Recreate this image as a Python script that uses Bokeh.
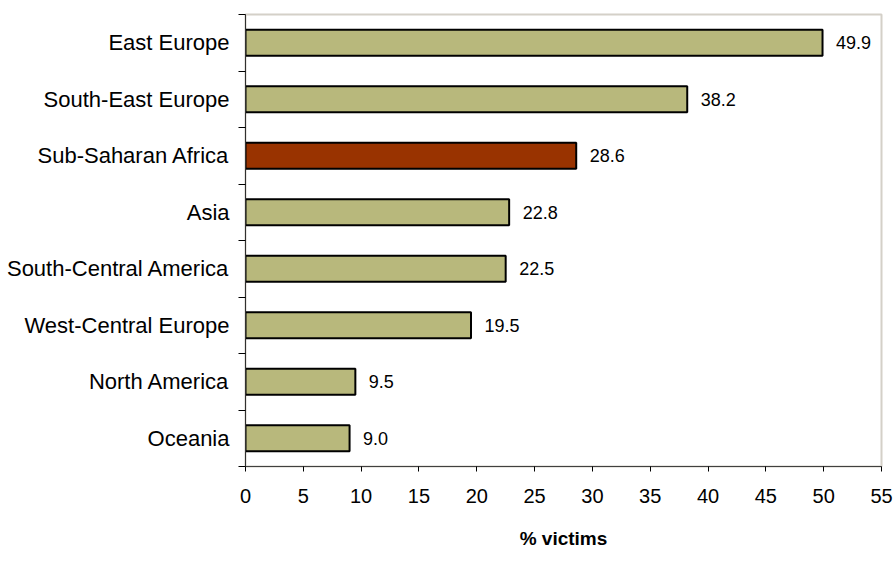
from bokeh.plotting import figure
from bokeh.models import ColumnDataSource, FixedTicker, Range1d
from bokeh.embed import file_html
from bokeh.resources import INLINE
from bokeh.core.properties import value

# Data (top to bottom as shown)
regions = ["East Europe", "South-East Europe", "Sub-Saharan Africa", "Asia",
           "South-Central America", "West-Central Europe", "North America", "Oceania"]
pct_victims = [49.9, 38.2, 28.6, 22.8, 22.5, 19.5, 9.5, 9.0]
highlight = "Sub-Saharan Africa"
x_ticks = [0, 5, 10, 15, 20, 25, 30, 35, 40, 45, 50, 55]

FONT = "Liberation Sans"
n = len(regions)
ypos = [n - 1 - i + 0.5 for i in range(n)]
colors = ["#993300" if r == highlight else "#b8b87c" for r in regions]
labels = ["%.1f" % v for v in pct_victims]

src = ColumnDataSource(dict(region=regions, v=pct_victims, y=ypos, c=colors, lab=labels))

p = figure(width=895, height=574, output_backend="svg", toolbar_location=None,
           x_range=Range1d(0, 55), y_range=Range1d(0, n),
           min_border_left=245, min_border_right=14, min_border_top=14, min_border_bottom=108)
p.background_fill_color = "white"
p.border_fill_color = "white"
p.outline_line_color = "#d4d0c8"
p.outline_line_width = 2
p.xgrid.visible = False
p.ygrid.visible = False

p.hbar(y="y", right="v", left=0, height=0.46, fill_color="c", line_color="black",
       line_width=2, source=src)
p.text(x="v", y="y", text="lab", x_offset=13.5, text_baseline="middle", text_align="left",
       text_font=value(FONT), text_font_size="18px", text_color="black", source=src)

# x axis
xa = p.xaxis[0]
xa.ticker = FixedTicker(ticks=x_ticks)
xa.axis_line_color = "#404040"
xa.major_tick_in = 0
xa.major_tick_out = 5
xa.major_tick_line_color = "black"
xa.minor_tick_line_color = None
xa.major_label_text_font = FONT
xa.major_label_text_font_size = "20px"
xa.major_label_text_color = "black"
xa.major_label_standoff = 17
xa.axis_label = "% victims"
xa.axis_label_text_font = FONT
xa.axis_label_text_font_size = "19px"
xa.axis_label_text_font_style = "bold"
xa.axis_label_text_color = "black"
xa.axis_label_standoff = 22

# y axis: labels at category centers, tick marks at boundaries
ya = p.yaxis[0]
ya.ticker = FixedTicker(ticks=ypos, minor_ticks=list(range(n + 1)))
ya.major_label_overrides = {y: r for y, r in zip(ypos, regions)}
ya.axis_line_color = "#303030"
ya.major_tick_in = 0
ya.major_tick_out = 0
ya.minor_tick_in = 0
ya.minor_tick_out = 7
ya.minor_tick_line_color = "black"
ya.major_label_text_font = FONT
ya.major_label_text_font_size = "22px"
ya.major_label_text_color = "black"
ya.major_label_standoff = 9

open("out.html", "w").write(file_html(p, INLINE))
